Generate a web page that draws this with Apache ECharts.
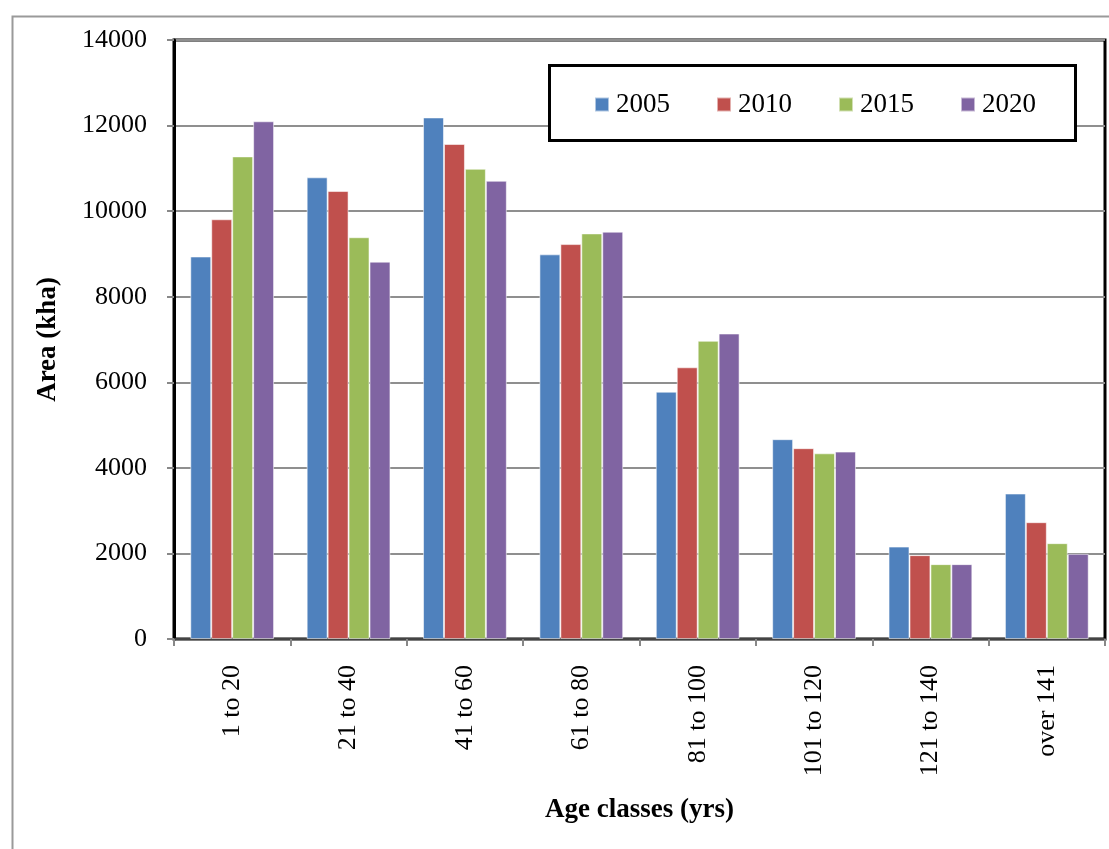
<!DOCTYPE html>
<html>
<head>
<meta charset="utf-8">
<script src="https://cdn.jsdelivr.net/npm/echarts@6/dist/echarts.min.js"></script>
<style>
html,body{margin:0;padding:0;background:#fff;}
#chart{width:1109px;height:849px;}
</style>
</head>
<body>
<div id="chart"></div>
<script>
var categories = ['1 to 20','21 to 40','41 to 60','61 to 80','81 to 100','101 to 120','121 to 140','over 141'];
var seriesNames = ['2005','2010','2015','2020'];
var values2005 = [8940, 10790, 12190, 8990, 5780, 4670, 2160, 3400];
var values2010 = [9810, 10470, 11570, 9230, 6350, 4460, 1960, 2730];
var values2015 = [11280, 9390, 10990, 9480, 6970, 4340, 1750, 2240];
var values2020 = [12100, 8820, 10710, 9520, 7140, 4380, 1750, 1990];
var yTicks = [0, 2000, 4000, 6000, 8000, 10000, 12000, 14000];

var colors = ['#4F81BD', '#C0504D', '#9BBB59', '#8064A2'];
var allValues = [values2005, values2010, values2015, values2020];
var FONT = '"Liberation Serif", "Times New Roman", serif';

var chart = echarts.init(document.getElementById('chart'), null, {renderer: 'canvas'});
var series = seriesNames.map(function (n, i) {
  return {
    name: n,
    type: 'bar',
    data: allValues[i],
    barGap: '0%',
    barCategoryGap: '28%',
    itemStyle: {color: colors[i], borderColor: 'rgba(255,255,255,0.55)', borderWidth: 1},
    emphasis: {disabled: true}
  };
});

chart.setOption({
  animation: false,
  backgroundColor: '#fff',
  color: colors,
  graphic: [
    {type: 'rect', left: 10, top: 14, shape: {x: 0, y: 0, width: 1130, height: 860},
     style: {fill: 'none', stroke: '#9a9a9a', lineWidth: 2}, z: -10},
    {type: 'rect', left: 548, top: 64, shape: {x: 0, y: 0, width: 526, height: 75},
     style: {fill: '#fff', stroke: '#000', lineWidth: 3}, z: 50}
  ],
  legend: {
    data: seriesNames,
    left: 589,
    top: 86,
    itemWidth: 14,
    itemHeight: 14,
    itemGap: 46,
    icon: 'rect',
    z: 60,
    textStyle: {fontFamily: FONT, fontSize: 27, color: '#000', padding: [0,0,0,2]}
  },
  grid: {
    left: 174, right: 4, top: 40, bottom: 210,
    show: true, borderColor: '#000', borderWidth: 3, backgroundColor: 'transparent'
  },
  xAxis: {
    type: 'category',
    data: categories,
    name: 'Age classes (yrs)',
    nameLocation: 'middle',
    nameGap: 158,
    nameTextStyle: {fontFamily: FONT, fontSize: 27, fontWeight: 'bold', color: '#000'},
    axisLine: {show: true, lineStyle: {color: '#444', width: 2}},
    axisTick: {show: true, length: 7, lineStyle: {color: '#888', width: 2}},
    axisLabel: {rotate: 90, interval: 0, margin: 26, fontFamily: FONT, fontSize: 26, color: '#000'}
  },
  yAxis: {
    type: 'value',
    min: yTicks[0],
    max: yTicks[yTicks.length - 1],
    interval: 2000,
    name: 'Area (kha)',
    nameLocation: 'middle',
    nameGap: 112,
    nameTextStyle: {fontFamily: FONT, fontSize: 27, fontWeight: 'bold', color: '#000'},
    axisLine: {show: true, lineStyle: {color: '#000', width: 3}},
    axisTick: {show: true, length: 7, lineStyle: {color: '#888', width: 2}},
    axisLabel: {margin: 27, fontFamily: FONT, fontSize: 26, color: '#000',
                formatter: function (v) { return String(v); }},
    splitLine: {show: true, lineStyle: {color: '#8f8f8f', width: 2}}
  },
  series: series
});
</script>
</body>
</html>
